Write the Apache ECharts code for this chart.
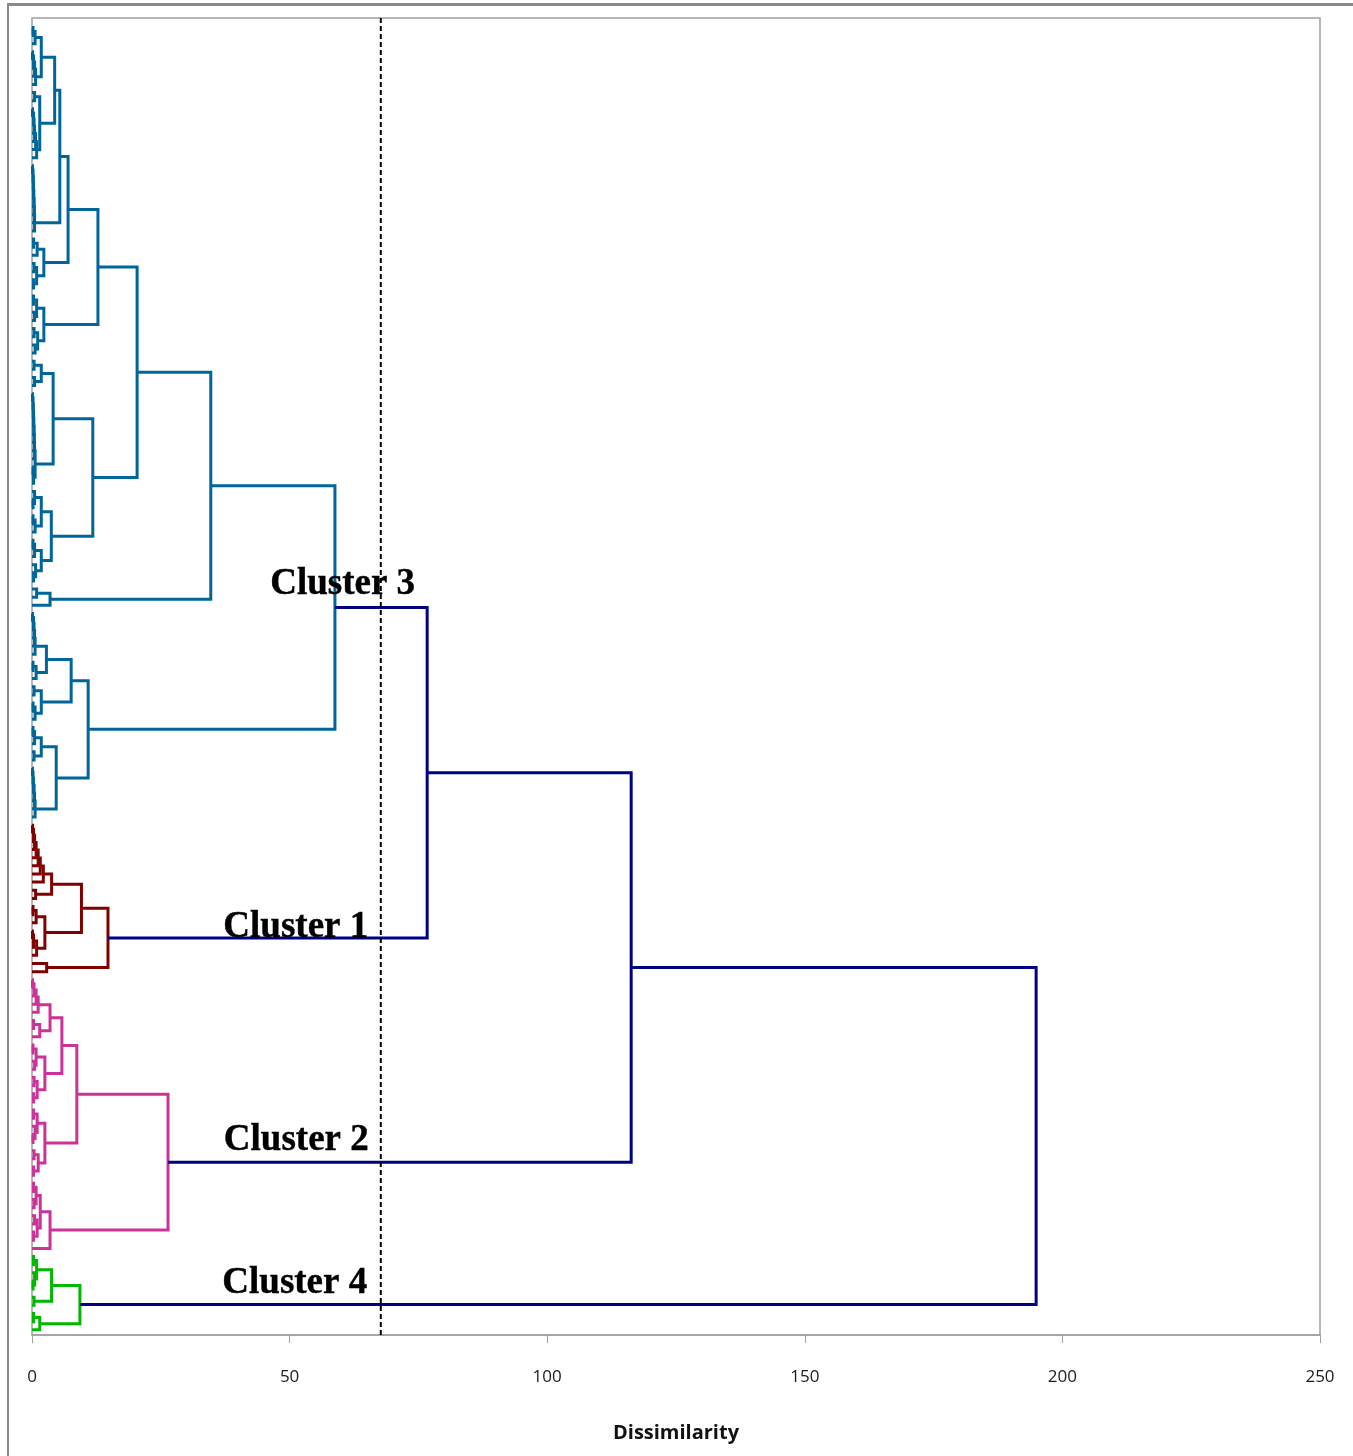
<!DOCTYPE html>
<html lang="en">
<head>
    <meta charset="UTF-8">
    <script src="https://cdn.jsdelivr.net/npm/echarts@6/dist/echarts.min.js"></script>
    <style>
        html, body { margin: 0; padding: 0; background: #fff; }
        #chart { position: absolute; left: 0; top: 0; width: 1353px; height: 1456px; }
        #frame { position: absolute; left: 7px; top: 3px; width: 1346px; height: 1453px;
                 border-left: 2px solid #8a8a8a; border-top: 3px solid #8a8a8a; pointer-events: none; }
    </style>
</head>
<body>
<div id="chart"></div>
<div id="frame"></div>
<script>
    // trees: [height, left, right], a leaf is 0 ; leaves are listed top to bottom
    var cluster3 = [58.8,
        [34.7,
            [20.4,
                [12.8,
                    [7.0,
                        [5.4,
                            [4.4,
                                [1.8, [0.6, [0.2, 0, 0], 0], [0.7, [0.5, [0.3, [0.1, 0, 0], 0], 0], 0]],
                                [1.5, [0.5, 0, 0], [0.9, [0.7, [0.5, [0.4, [0.3, [0.1, 0, 0], 0], 0], 0], 0], 0]]],
                            [0.5, [0.45, [0.4, [0.35, [0.3, [0.25, [0.2, [0.1, 0, 0], 0], 0], 0], 0], 0], 0], 0]],
                        [2.3, [1.0, [0.3, 0, 0], 0], [0.9, [0.4, 0, 0], [0.3, 0, 0]]]],
                    [2.3, [0.9, [0.3, 0, 0], [0.5, 0, 0]], [1.1, [0.4, 0, 0], [0.6, 0, 0]]]],
                [11.8,
                    [4.1,
                        [1.8, [0.4, 0, 0], [0.5, 0, 0]],
                        [0.6, [0.5, [0.45, [0.4, [0.35, [0.3, [0.25, [0.2, [0.1, 0, 0], 0], 0], 0], 0], 0], 0], 0], [0.3, [0.2, 0, 0], 0]]],
                    [3.75,
                        [1.8, [0.5, 0, [0.2, 0, 0]], [0.6, [0.2, 0, 0], 0]],
                        [1.8, [0.5, [0.2, 0, 0], 0], [0.7, 0, [0.3, 0, 0]]]]]],
            [3.5, [0.9, 0, 0], 0]],
        [10.9,
            [7.6,
                [2.8, [0.6, [0.5, [0.4, [0.3, [0.1, 0, 0], 0], 0], 0], 0], [0.8, [0.2, 0, 0], 0]],
                [1.8, [0.4, 0, 0], [0.6, [0.2, 0, 0], 0]]],
            [4.7,
                [1.8, [0.5, [0.2, 0, 0], 0], [0.4, 0, 0]],
                [0.6, [0.5, [0.4, [0.3, [0.2, [0.1, 0, 0], 0], 0], 0], 0], 0]]]];

    var cluster1 = [14.75,
        [9.6,
            [3.8, [2.2, [1.6, [1.2, [0.8, [0.5, [0.3, [0.1, 0, 0], 0], 0], 0], 0], 0], 0], [0.7, 0, 0]],
            [2.5, [0.8, [0.2, 0, 0], 0], [0.9, [0.3, [0.1, 0, 0], 0], 0]]],
        [2.85, 0, 0]];

    var cluster2 = [26.4,
        [8.7,
            [5.8,
                [3.5, [1.2, [0.8, [0.4, [0.1, 0, 0], 0], 0], 0], [1.5, [0.3, 0, 0], 0]],
                [2.5, [0.8, [0.2, 0, 0], [0.5, 0, 0]], [1.0, [0.4, 0, 0], [0.3, 0, 0]]]],
            [2.5, [1.0, [0.3, 0, 0], [0.6, 0, [0.2, 0, 0]]], [1.2, [0.4, 0, 0], [0.3, 0, 0]]]],
        [3.5, [1.6, [0.8, [0.3, 0, 0], [0.4, 0, 0]], [1.0, [0.5, 0, 0], [0.3, 0, 0]]], 0]];

    var cluster4 = [9.3,
        [3.8, [0.9, [0.3, 0, 0], [0.5, 0, [0.2, 0, 0]]], [0.4, 0, 0]],
        [1.5, [0.3, 0, 0], 0]];

    var clusterNames = ['Cluster 3', 'Cluster 1', 'Cluster 2', 'Cluster 4'];
    var joinHeights = [76.7, 116.3, 194.9];
    var cutLevel = 67.7;
    var xTicks = [0, 50, 100, 150, 200, 250];

    var colors = ['#006699', '#800000', '#cc3399', '#00b800'];
    var joinColor = '#000080';

    // walk a tree, give each leaf the next row, collect one link per merge
    var leafRow = 0;
    function layout(node, links) {
        if (!Array.isArray(node)) {
            return {h: 0, y: leafRow++};
        }
        var a = layout(node[1], links);
        var b = layout(node[2], links);
        links.push([a.h, a.y, node[0], b.y, b.h]);
        return {h: node[0], y: (a.y + b.y) / 2};
    }

    var trees = [cluster3, cluster1, cluster2, cluster4];
    var built = trees.map(function (t) {
        var links = [];
        var root = layout(t, links);
        return {root: root, links: links};
    });
    var leafTotal = leafRow;

    var joinLinks = [];
    var cur = built[0].root;
    for (var i = 1; i < built.length; i++) {
        var r = built[i].root;
        joinLinks.push([cur.h, cur.y, joinHeights[i - 1], r.y, r.h]);
        cur = {h: joinHeights[i - 1], y: (cur.y + r.y) / 2};
    }

    function renderLink(params, api) {
        var pts = [
            api.coord([api.value(0), api.value(1)]),
            api.coord([api.value(2), api.value(1)]),
            api.coord([api.value(2), api.value(3)]),
            api.coord([api.value(4), api.value(3)])
        ];
        return {
            type: 'polyline',
            shape: {points: pts},
            style: {fill: null, stroke: api.visual('color'), lineWidth: 3}
        };
    }

    var yMin = -1.16, yMax = yMin + leafTotal + 0.8;

    var series = built.map(function (b, k) {
        return {
            name: clusterNames[k],
            type: 'custom',
            renderItem: renderLink,
            itemStyle: {color: colors[k]},
            encode: {x: [0, 2, 4], y: [1, 3]},
            data: b.links,
            z: 2
        };
    });
    series.push({
        type: 'custom',
        renderItem: renderLink,
        itemStyle: {color: joinColor},
        encode: {x: [0, 2, 4], y: [1, 3]},
        data: joinLinks,
        z: 2
    });
    series.push({
        type: 'line',
        data: [[cutLevel, yMin], [cutLevel, yMax]],
        symbol: 'none',
        lineStyle: {color: '#000', width: 2, type: [5, 3]},
        z: 3
    });
    series.push({
        type: 'scatter',
        symbolSize: 0,
        itemStyle: {color: '#000', opacity: 1},
        data: [
            {name: clusterNames[0], value: [60.3, 68.4]},
            {name: clusterNames[1], value: [51.2, 110.6]},
            {name: clusterNames[2], value: [51.3, 136.7]},
            {name: clusterNames[3], value: [51.0, 154.3]}
        ],
        label: {
            show: true,
            position: 'inside',
            formatter: '{b}',
            color: '#000',
            textBorderColor: '#000',
            textBorderWidth: 0.4,
            fontFamily: 'Liberation Serif',
            fontWeight: 'bold',
            fontSize: 37
        },
        z: 10
    });

    var mCharts = echarts.init(document.getElementById('chart'));
    var option = {
        animation: false,
        grid: {
            left: 32, right: 33, top: 18, bottom: 121,
            show: true, borderColor: '#a0a0a0', borderWidth: 1.5
        },
        xAxis: {
            type: 'value', min: xTicks[0], max: xTicks[xTicks.length - 1], interval: 50,
            axisLine: {onZero: false, lineStyle: {color: '#a0a0a0', width: 1.5}},
            axisTick: {length: 8, lineStyle: {color: '#a0a0a0'}},
            splitLine: {show: false},
            axisLabel: {color: '#1a1a1a', fontSize: 17, fontFamily: 'Open Sans', margin: 34},
            name: 'Dissimilarity',
            nameLocation: 'middle',
            nameGap: 88,
            nameTextStyle: {color: '#111', fontSize: 20, fontWeight: 'bold', fontFamily: 'Open Sans'}
        },
        yAxis: {type: 'value', inverse: true, min: yMin, max: yMax, show: false},
        series: series
    };
    mCharts.setOption(option);
</script>
</body>
</html>
